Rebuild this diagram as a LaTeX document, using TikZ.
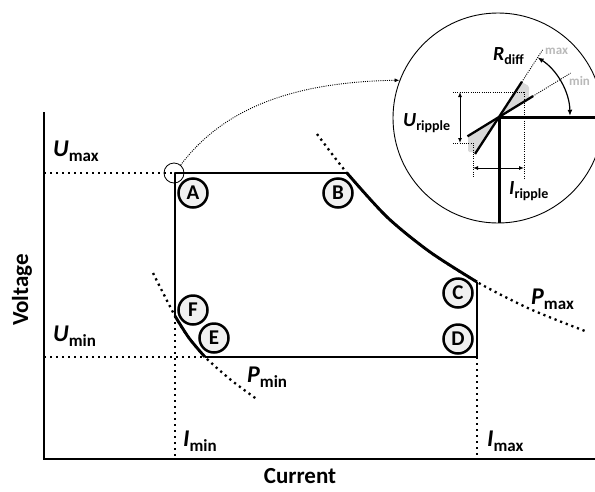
\documentclass[tikz,border=0pt]{standalone}
\usepackage{fontspec}
\setmainfont{Carlito}
\usetikzlibrary{arrows.meta,calc}
\newcommand\bigq[2]{{\fontsize{24}{28}\selectfont\itshape #1}\raisebox{-5pt}{\fontsize{17}{20}\selectfont #2}}
\newcommand\smallq[2]{{\fontsize{20}{23}\selectfont\itshape #1}\raisebox{-4pt}{\fontsize{14}{16}\selectfont #2}}
\begin{document}
\begin{tikzpicture}[x=1pt,y=-1pt,
  thickln/.style={line width=2.9pt, line join=round},
  dotln/.style={line width=2.3pt, dash pattern=on 2.2pt off 3.8pt},
  fine/.style={line width=0.9pt, dash pattern=on 1pt off 1.2pt},
  tip/.style={{Latex[length=5pt,width=4pt]}-{Latex[length=5pt,width=4pt]}, line width=1pt},
  letter/.style={circle, draw, line width=2.5pt, fill=gray!12, minimum size=29pt, inner sep=0pt, font=\fontsize{21}{23}\selectfont\bfseries},
  lbl/.style={anchor=base west, inner sep=0pt, font=\bfseries},
  greylbl/.style={anchor=base west, inner sep=0pt, text=gray!55, font=\fontsize{13}{15}\selectfont\bfseries}]
\useasboundingbox (0,0) rectangle (595,491);

% key points
\coordinate (O) at (44,459);
\coordinate (Yt) at (44,112);
\coordinate (Xr) at (600,459);
\coordinate (A) at (175,173);
\coordinate (B) at (347,173);
\coordinate (b1) at (387,217);
\coordinate (b2) at (430,252);
\coordinate (C) at (477,282);
\coordinate (D) at (477,357);
\coordinate (E) at (205,357);
\coordinate (F) at (175,316);
\coordinate (f1) at (189,338);
\coordinate (pmaxa) at (317,134);
\coordinate (pmaxb) at (530,309);
\coordinate (pmaxc) at (585,331);
\coordinate (pmina) at (153,273);
\coordinate (pminb) at (231,380);
\coordinate (pminc) at (258,400);
\coordinate (umaxl) at (44,173);
\coordinate (uminl) at (44,357);
\coordinate (iminb) at (175,459);
\coordinate (imaxb) at (477,459);

% dotted guides
\draw[dotln] (umaxl) -- (A);
\draw[dotln] (uminl) -- (E);
\draw[dotln] (F) -- (iminb);
\draw[dotln] (D) -- (imaxb);
\draw[dotln] plot[smooth] coordinates {(pmaxa) (B) (b1) (b2) (C) (pmaxb) (pmaxc)};
\draw[dotln] plot[smooth] coordinates {(pmina) (F) (f1) (E) (pminb) (pminc)};

% axes
\draw[line width=2.9pt] (Yt) -- (O) -- (Xr);

% operating area
\draw[thickln] (F) -- (A) -- (B);
\draw[thickln] plot[smooth] coordinates {(B) (b1) (b2) (C)};
\draw[thickln] (C) -- (D) -- (E);
\draw[thickln] plot[smooth] coordinates {(F) (f1) (E)};

% corner letters
\node[letter] (la) at (193,193) {A};
\node[letter] (lb) at (338,193) {B};
\node[letter] (lc) at (458,293) {C};
\node[letter] (ld) at (458,339) {D};
\node[letter] (le) at (214,338) {E};
\node[letter] (lf) at (193,310) {F};

% labels
\node[lbl] (tumax) at (53,156) {\bigq{U}{max}};
\node[lbl] (tumin) at (53,341) {\bigq{U}{min}};
\node[lbl] (timin) at (183,446) {\bigq{I}{min}};
\node[lbl] (timax) at (487,446) {\bigq{I}{max}};
\node[lbl] (tpmax) at (531,304) {\bigq{P}{max}};
\node[lbl] (tpmin) at (247,382) {\bigq{P}{min}};
\node[font=\fontsize{23}{26}\selectfont\bfseries, rotate=90] (volt) at (22,290) {Voltage};
\node[font=\fontsize{23}{26}\selectfont\bfseries] (curr) at (300,476) {Current};

% magnifier
\node[circle, draw, line width=0.8pt, minimum size=20pt, inner sep=0pt] (src) at (174,173) {};
\coordinate (K) at (499,117);
\begin{scope}
\clip (498,118) circle[radius=105pt];
\fill[gray!30, rounded corners=1.5pt] (K) -- ($(K)+(57:41.7pt)$) -- (529,86) -- (529,99) -- cycle;
\fill[gray!30, rounded corners=1.5pt] (K) -- (468,136) -- (468,152) -- (476,152) -- cycle;
\draw[line width=3pt] (610,117) -- (K) -- (499,230);
\end{scope}
\node[circle, draw, line width=0.9pt, minimum size=210pt, inner sep=0pt] (lens) at (498,118) {};
\draw[fine, -{Latex[length=5pt,width=4pt]}] (src.50) .. controls (222,110) and (290,82) .. (lens.159);

\draw[fine] (K) -- ($(K)+(57:80pt)$);
\draw[fine] (K) -- ($(K)+(31.5:84pt)$);
\draw[line width=2.3pt] ($(K)+(237:44pt)$) -- ($(K)+(57:42pt)$);
\draw[line width=2.3pt] ($(K)+(211.5:37pt)$) -- ($(K)+(31.5:40pt)$);

\draw[fine] (453,92) -- (525,92);
\draw[fine] (453,143) -- (473,143);
\draw[tip] (460,92) -- (460,143);
\draw[fine] (473,143) -- (473,178);
\draw[fine] (524,92) -- (524,178);
\draw[tip] (473,168) -- (524,168);
\draw[{Latex[length=6pt,width=5pt]}-{Latex[length=6pt,width=5pt]}, line width=1.2pt] ([shift={(57:71pt)}]K) arc[start angle=57, end angle=1, radius=71pt];

\node[lbl] (trd) at (493,60) {\smallq{R}{diff}};
\node[greylbl] (tmx) at (545,54) {max};
\node[greylbl] (tmn) at (569,85) {min};
\node[lbl] (tur) at (403,126) {\smallq{U}{ripple}};
\node[lbl] (tir) at (509,194) {\smallq{I}{ripple}};
\end{tikzpicture}
\end{document}
